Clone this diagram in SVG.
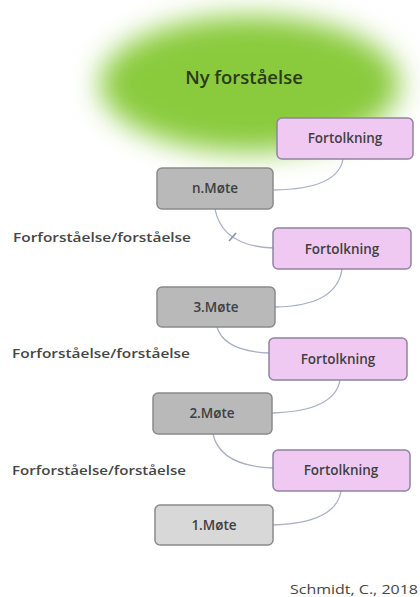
<svg xmlns="http://www.w3.org/2000/svg" width="420" height="597" viewBox="0 0 420 597">
<defs>
<filter id="blur" x="-30%" y="-40%" width="160%" height="180%"><feGaussianBlur stdDeviation="14"/></filter>
<style>
.lbl{font-family:"Open Sans","Liberation Sans",sans-serif;font-size:13px;fill:#454545;font-weight:600}
.node{font-family:"Open Sans","Liberation Sans",sans-serif;font-size:13.5px;fill:#404040;font-weight:600;text-anchor:middle;dominant-baseline:central}
.f{fill:#f0c9f3;stroke:#8f84a3;stroke-width:1.5}
.m{fill:#b9b9b9;stroke:#8a8a8a;stroke-width:1.5}
.m1{fill:#d8d8d8;stroke:#8a8a8a;stroke-width:1.5}
.c{fill:none;stroke:#a9b0c6;stroke-width:1.3}
</style>
</defs>
<rect width="420" height="597" fill="#ffffff"/>
<g id="ny-forstaaelse">
<ellipse cx="250" cy="84" rx="150" ry="68" fill="#8acb3e" filter="url(#blur)"/>
<text x="244" y="76" class="node" style="font-size:18.5px;fill:#2a3a1a">Ny forståelse</text>
</g>
<g id="connectors">
<path class="c" d="M343,159 Q338,189 274,190"/>
<path class="c" d="M215,209 Q222,246 273,248"/>
<path class="c" d="M229,241 L236,233" style="stroke:#8890b0;stroke-width:1.6"/>
<path class="c" d="M342,269 Q337,306 275,307"/>
<path class="c" d="M217,327 Q224,351 269,353"/>
<path class="c" d="M340,380 Q335,411 272,413"/>
<path class="c" d="M213,434 Q220,466 273,468"/>
<path class="c" d="M341,491 Q336,523 273,525"/>
</g>
<g id="fortolkning-4"><rect class="f" x="277" y="118" width="136" height="41" rx="5"/><text class="node" x="345" y="138">Fortolkning</text></g>
<g id="n-mote"><rect class="m" x="157" y="168" width="116" height="41" rx="5"/><text class="node" x="215" y="188">n.Møte</text></g>
<g id="fortolkning-3"><rect class="f" x="273" y="228" width="138" height="41" rx="5"/><text class="node" x="342" y="249">Fortolkning</text></g>
<g id="mote-3"><rect class="m" x="157" y="287" width="118" height="40" rx="5"/><text class="node" x="216" y="307">3.Møte</text></g>
<g id="fortolkning-2"><rect class="f" x="269" y="338" width="138" height="42" rx="5"/><text class="node" x="338" y="359">Fortolkning</text></g>
<g id="mote-2"><rect class="m" x="153" y="393" width="119" height="41" rx="5"/><text class="node" x="212" y="413">2.Møte</text></g>
<g id="fortolkning-1"><rect class="f" x="273" y="450" width="137" height="41" rx="5"/><text class="node" x="341" y="470">Fortolkning</text></g>
<g id="mote-1"><rect class="m1" x="155" y="505" width="118" height="40" rx="5"/><text class="node" x="214" y="525">1.Møte</text></g>
<g id="labels">
<text class="lbl" x="13" y="242" textLength="178" lengthAdjust="spacingAndGlyphs">Forforståelse/forståelse</text>
<text class="lbl" x="12" y="358" textLength="178" lengthAdjust="spacingAndGlyphs">Forforståelse/forståelse</text>
<text class="lbl" x="12" y="475" textLength="174" lengthAdjust="spacingAndGlyphs">Forforståelse/forståelse</text>
<text class="lbl" x="290" y="594" textLength="128" lengthAdjust="spacingAndGlyphs" style="font-weight:400">Schmidt, C., 2018</text>
</g>
</svg>
